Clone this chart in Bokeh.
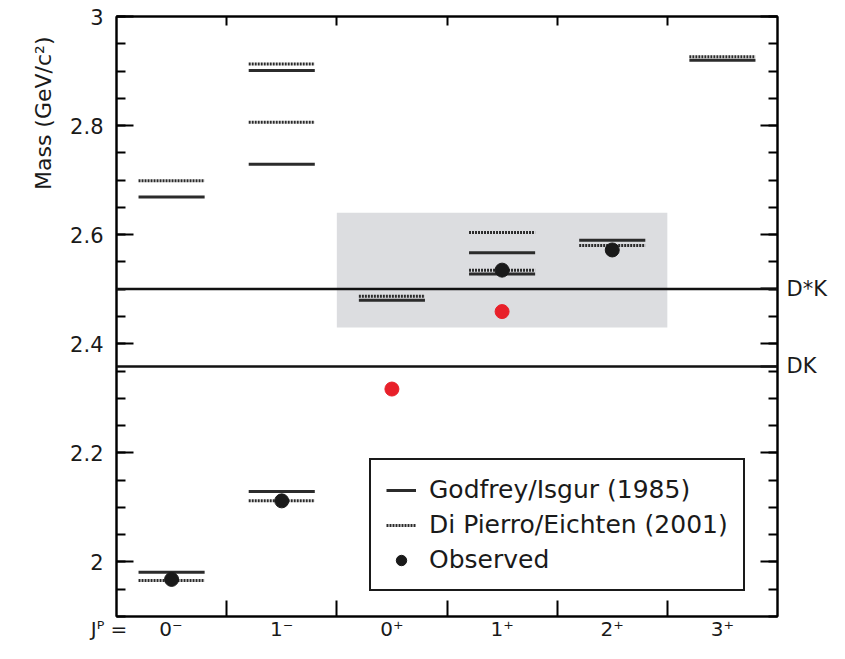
from bokeh.plotting import figure
from bokeh.models import (FixedTicker, LinearAxis, Span, BoxAnnotation, Title,
                          Legend, LegendItem, ColumnDataSource, Range1d)
from bokeh.embed import file_html
from bokeh.resources import INLINE
import numpy as np

# ---------------- data ----------------
categories = ["0⁻", "1⁻", "0⁺", "1⁺", "2⁺", "3⁺"]
row_label = "Jᴾ ="
# Godfrey/Isgur (1985) predictions (column index, mass GeV/c^2)
gi_col = [0, 0, 1, 1, 1, 2, 3, 3, 4, 5]
gi_mass = [1.981, 2.669, 2.129, 2.729, 2.901, 2.480, 2.528, 2.567, 2.590, 2.920]
# Di Pierro/Eichten (2001) predictions
dpe_col = [0, 0, 1, 1, 1, 2, 3, 3, 4, 5]
dpe_mass = [1.966, 2.699, 2.112, 2.806, 2.913, 2.487, 2.535, 2.604, 2.580, 2.926]
# Observed states (black) and new states (red)
obs_col = [0, 1, 3, 4]
obs_mass = [1.968, 2.112, 2.535, 2.572]
new_col = [2, 3]
new_mass = [2.317, 2.459]
# thresholds
threshold_names = ["D*K", "DK"]
threshold_mass = [2.5005, 2.3585]
# shaded region (column range, mass range)
shade_cols = [2.0, 5.0]
shade_mass = [2.43, 2.64]
y_ticks = [2.0, 2.2, 2.4, 2.6, 2.8, 3.0]
y_tick_labels = ["2", "2.2", "2.4", "2.6", "2.8", "3"]

FONT = "DejaVu Sans"
TXT = "#1a1a1a"
HALF = 0.3
NB = "\u00a0"

p = figure(width=829, height=643, x_range=Range1d(0, 6), y_range=Range1d(1.9, 3.0),
           output_backend="svg", toolbar_location=None,
           min_border_left=116, min_border_right=50, min_border_top=16, min_border_bottom=26)
p.grid.visible = False
p.outline_line_color = "#1a1a1a"
p.outline_line_width = 2
p.background_fill_color = "white"

# shaded band
p.add_layout(BoxAnnotation(left=shade_cols[0], right=shade_cols[1],
                           bottom=shade_mass[0], top=shade_mass[1],
                           fill_color="#dcdde0", fill_alpha=1.0, line_alpha=0,
                           level="underlay"))

# thresholds
for m in threshold_mass:
    p.add_layout(Span(location=m, dimension="width", line_color="#111111", line_width=2.5))

def seg_source(cols, masses):
    return ColumnDataSource(dict(x0=[c + 0.5 - HALF for c in cols],
                                 x1=[c + 0.5 + HALF for c in cols],
                                 y=masses))

r_gi = p.segment(x0="x0", y0="y", x1="x1", y1="y", source=seg_source(gi_col, gi_mass),
                 line_color="#2b2b2b", line_width=3)
r_dpe = p.segment(x0="x0", y0="y", x1="x1", y1="y", source=seg_source(dpe_col, dpe_mass),
                  line_color="#2b2b2b", line_width=3, line_dash="2 1")

r_obs = p.scatter(x=[c + 0.5 for c in obs_col], y=obs_mass, size=14,
                  fill_color="#1a1a1a", line_color="#1a1a1a")
p.scatter(x=[c + 0.5 for c in new_col], y=new_mass, size=14,
          fill_color="#e8202a", line_color="#e8202a")

# ---------------- axes ----------------
minor_y = [round(v, 2) for v in np.arange(1.9, 3.0001, 0.05)]
left = p.yaxis[0]
left.ticker = FixedTicker(ticks=y_ticks, minor_ticks=minor_y)
left.major_label_overrides = {t: l for t, l in zip(y_ticks, y_tick_labels)}
left.major_tick_in = 17
left.major_tick_out = 0
left.minor_tick_in = 9
left.minor_tick_out = 0
left.major_label_standoff = 13
left.major_label_text_font = FONT
left.major_label_text_font_size = "21px"
left.major_label_text_color = TXT
left.axis_line_width = 2
left.major_tick_line_width = 2
left.minor_tick_line_width = 2

# right axis: long ticks at the mass ticks, threshold names as labels
right_overrides = {t: "" for t in y_ticks}
right_overrides.update({m: n for m, n in zip(threshold_mass, threshold_names)})
right = LinearAxis(ticker=FixedTicker(ticks=y_ticks + threshold_mass, minor_ticks=minor_y),
                   major_label_overrides=right_overrides,
                   major_label_text_font=FONT, major_label_text_font_size="21px",
                   major_label_text_color=TXT, major_label_standoff=9,
                   major_tick_in=17, major_tick_out=0,
                   minor_tick_in=9, minor_tick_out=0, axis_line_width=2,
                   major_tick_line_width=2, minor_tick_line_width=2)
p.add_layout(right, "right")

# bottom axis: J^P labels at column centres, ticks at column boundaries
pad_left = NB * 5
pad_right = NB * 11
bottom_labels = {i + 0.5: c for i, c in enumerate(categories)}
bottom_labels[0.5] = row_label + pad_left + categories[0] + pad_right
bottom = p.xaxis[0]
bottom.ticker = FixedTicker(ticks=[i + 0.5 for i in range(len(categories))],
                            minor_ticks=list(range(1, len(categories))))
bottom.major_label_overrides = bottom_labels
bottom.major_tick_in = 0
bottom.major_tick_out = 0
bottom.minor_tick_in = 16
bottom.minor_tick_out = 0
bottom.minor_tick_line_width = 2
bottom.axis_line_width = 2
bottom.major_label_standoff = 0
bottom.major_label_text_font = FONT
bottom.major_label_text_font_size = "20px"
bottom.major_label_text_color = TXT

top = LinearAxis(ticker=FixedTicker(ticks=[], minor_ticks=list(range(1, len(categories)))),
                 minor_tick_in=9, minor_tick_out=0, major_tick_in=0, major_tick_out=0,
                 axis_line_width=2, minor_tick_line_width=2, major_label_standoff=0)
p.add_layout(top, "above")

# vertical axis title near the top of the left side
ytitle = Title(text="Mass (GeV/c²)", align="right", text_font=FONT,
               text_font_size="22px", text_color=TXT)
ytitle.text_font_style = "normal"
try:
    ytitle.offset = 20
except Exception:
    pass
try:
    ytitle.standoff = 23
except Exception:
    pass
p.add_layout(ytitle, "left")

legend = Legend(items=[LegendItem(label="Godfrey/Isgur (1985)", renderers=[r_gi]),
                       LegendItem(label="Di Pierro/Eichten (2001)", renderers=[r_dpe]),
                       LegendItem(label="Observed", renderers=[r_obs])],
                location=(253, 25), border_line_color="#1a1a1a", border_line_width=2,
                border_line_alpha=1.0,
                background_fill_alpha=1.0, label_text_font=FONT,
                label_text_font_size="25px", label_text_color=TXT,
                glyph_width=30, glyph_height=26, label_standoff=13,
                padding=15, spacing=6, margin=0)
p.add_layout(legend)

open("out.html", "w").write(file_html(p, INLINE))
